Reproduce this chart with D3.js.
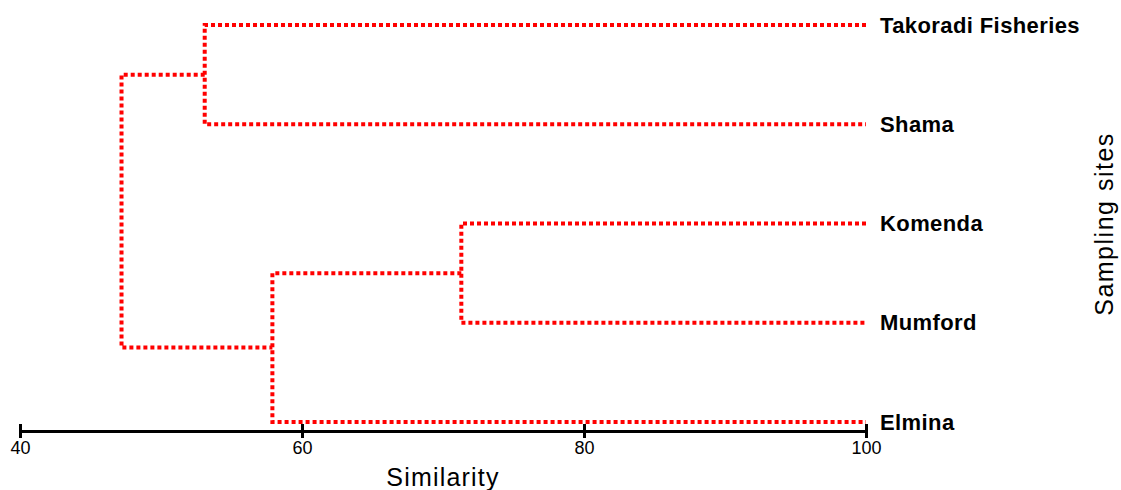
<html>
<head>
  <meta charset="utf-8">
  <script src="https://cdnjs.cloudflare.com/ajax/libs/d3/7.8.5/d3.min.js"></script>
  <style>
    body { margin: 0; background: #fff; }
    svg { font-family: "Liberation Sans", Arial, sans-serif; }
    .link { stroke: #ff0000; stroke-width: 4px; fill: none; stroke-dasharray: 4,3; }
    .leaf { font-size: 22px; font-weight: bold; fill: #000; letter-spacing: 0.4px; }
  </style>
</head>
<body>
  <svg width="1121" height="490"></svg>
  <script>
    // leaves, top to bottom
    var sites = ["Takoradi Fisheries", "Shama", "Komenda", "Mumford", "Elmina"];
    // merges: first child, second child, similarity where they join, new cluster name
    var mergeA = ["Takoradi Fisheries", "Komenda", "C2", "C1"];
    var mergeB = ["Shama", "Mumford", "Elmina", "C3"];
    var mergeSim = [53.1, 71.3, 57.9, 47.2];
    var mergeName = ["C1", "C2", "C3", "root"];
    var simTicks = [40, 60, 80, 100];

    var svg = d3.select("svg");
    var x = d3.scaleLinear().domain([40, 100]).range([20, 866]);
    var y = d3.scalePoint().domain(sites).range([25, 422]);

    var nodes = {};
    sites.forEach(s => nodes[s] = {x: x(100), y: y(s)});

    var lines = svg.append("g");
    mergeSim.forEach((sim, i) => {
      var a = nodes[mergeA[i]], b = nodes[mergeB[i]];
      var mx = x(sim);
      nodes[mergeName[i]] = {x: mx, y: (a.y + b.y) / 2};
      lines.append("path")
        .attr("class", "link")
        .attr("d", `M${a.x},${a.y}H${mx}V${b.y}H${b.x}`);
    });

    svg.append("g").selectAll("text")
      .data(sites)
      .enter()
      .append("text")
      .attr("class", "leaf")
      .attr("x", 880)
      .attr("y", d => y(d))
      .attr("dy", "0.35em")
      .text(d => d);

    var axis = svg.append("g")
      .attr("transform", "translate(0,431)")
      .call(d3.axisBottom(x).tickValues(simTicks).tickSize(6).tickPadding(4).tickSizeOuter(0));
    axis.select(".domain").attr("stroke", "#000").attr("stroke-width", 3);
    axis.selectAll(".tick line").attr("y1", -7).attr("y2", 7).attr("stroke-width", 3);
    axis.selectAll(".tick text")
      .style("font-size", "18px")
      .style("font-family", "Liberation Sans, Arial, sans-serif")
      .attr("fill", "#000");

    svg.append("text")
      .attr("x", x(70))
      .attr("y", 486)
      .attr("text-anchor", "middle")
      .style("font-size", "25px")
      .style("letter-spacing", "1.2px")
      .text("Similarity");

    svg.append("text")
      .attr("transform", "translate(1113,224) rotate(-90)")
      .attr("text-anchor", "middle")
      .style("font-size", "25px")
      .style("letter-spacing", "1.5px")
      .text("Sampling sites");
  </script>
</body>
</html>
